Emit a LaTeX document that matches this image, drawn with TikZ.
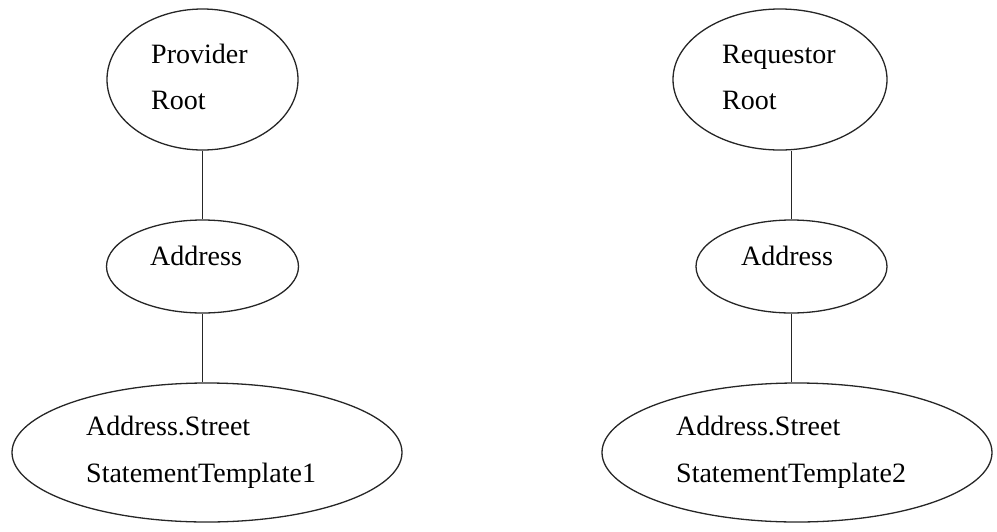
\documentclass[tikz,border=0pt]{standalone}
\usepackage{fontspec}
\setmainfont{Liberation Serif}
\usetikzlibrary{shapes.geometric}
\begin{document}
\begin{tikzpicture}[x=1pt,y=-1pt,
  oval/.style={ellipse,draw=black!85,line width=1.3pt,inner sep=0pt},
  link/.style={draw=black!85,line width=1.3pt},
  lbl/.style={anchor=base west,inner sep=0pt,font=\fontsize{28}{34}\selectfont}]
\useasboundingbox (0,0) rectangle (997,531);

% provider tree
\node[oval,minimum width=191pt,minimum height=141pt] (pr) at (202.5,79.5) {};
\node[oval,minimum width=192pt,minimum height=93pt] (pa) at (202.5,266.5) {};
\node[oval,minimum width=390pt,minimum height=139pt] (ps) at (207,452.5) {};
\node[lbl] (prt1) at (151,63) {Provider};
\node[lbl] (prt2) at (151,109) {Root};
\node[lbl] (pat) at (150,265) {Address};
\node[lbl] (pst1) at (86,435) {Address.Street};
\node[lbl] (pst2) at (86,482) {StatementTemplate1};
\draw[link] (pr.south) -- (pa.north);
\draw[link] (pa.south) -- (pa.south |- ps.north);

% requestor tree
\node[oval,minimum width=214pt,minimum height=141pt] (rr) at (780,79.5) {};
\node[oval,minimum width=191pt,minimum height=93pt] (ra) at (791.5,266.5) {};
\node[oval,minimum width=390pt,minimum height=139pt] (rs) at (797,452.5) {};
\node[lbl] (rrt1) at (722,63) {Requestor};
\node[lbl] (rrt2) at (722,109) {Root};
\node[lbl] (rat) at (741,265) {Address};
\node[lbl] (rst1) at (676,435) {Address.Street};
\node[lbl] (rst2) at (676,482) {StatementTemplate2};
\draw[link] (ra.north |- rr.south) -- (ra.north);
\draw[link] (ra.south) -- (ra.south |- rs.north);
\end{tikzpicture}
\end{document}
